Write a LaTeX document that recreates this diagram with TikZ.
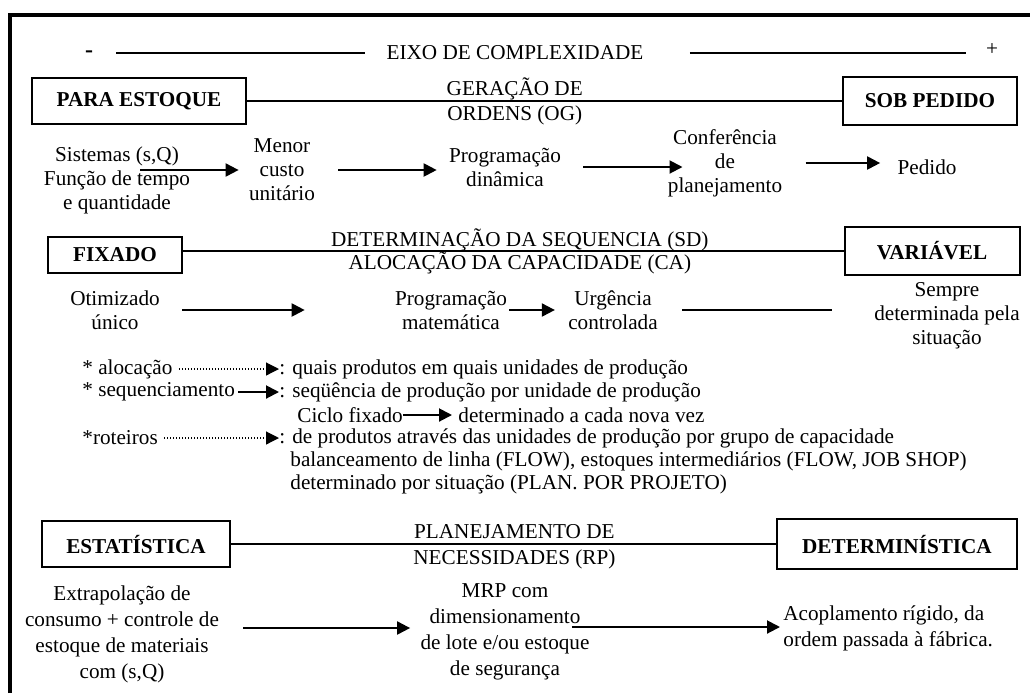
\documentclass[tikz,border=0pt]{standalone}
\usepackage{fontspec}
\setmainfont{Liberation Serif}
\usetikzlibrary{arrows.meta,calc}

\newcommand*\pxunit{0.5pt}
\newcommand*\fonte{\fontsize{10.6pt}{12pt}\selectfont}
\newcommand*\fontelarga{\fontsize{10.6pt}{13pt}\selectfont}
\tikzset{
    polo/.style 2 args={
        draw,
        line width=1pt,
        font=\fonte\bfseries,
        inner sep=0pt,
        minimum width=#1*\pxunit,
        minimum height=#2*\pxunit
    },
    bloco/.style={align=center, inner sep=0pt},
    texto/.style={anchor=west, inner sep=0pt},
    rotulo/.style={anchor=base, inner sep=0pt},
    linha/.style={line width=1pt},
    seta/.style={line width=1pt, -{Triangle[length=6.5pt,width=6.5pt]}},
    pontilhada/.style={line width=0.6pt, dash pattern=on 0.6pt off 0.9pt,
        -{Triangle[length=6.5pt,width=6.5pt]}},
    moldura/.style={line width=2.25pt}
}

\begin{document}
\begin{tikzpicture}[x=\pxunit, y=-\pxunit, font=\fonte]
    \useasboundingbox (0,0) rectangle (1030,693);

    % The frame shows only its top and left sides.
    \draw[moldura] (10,693) -- (10,15) -- (1030,15);

    % Complexity axis.
    \node[anchor=base, inner sep=0pt] (menos) at (89,57) {\large\bfseries -};
    \node[inner sep=0pt] (eixo) at (515,52.5) {EIXO DE COMPLEXIDADE};
    \node[inner sep=0pt] (mais) at (992,50) {+};
    \draw[linha] ($(menos.east |- eixo.west)+(23,0.5)$) -- ($(eixo.west)+(-21,0.5)$);
    \draw[linha] ($(eixo.east)+(46,0.5)$) -- ($(eixo.east -| mais.west)+(-20,0.5)$);

    % Order generation (OG).
    \node[polo={214}{46}] (paraestoque) at (139,101) {PARA ESTOQUE};
    \node[polo={174}{48}] (sobpedido) at (930,101) {SOB PEDIDO};
    \draw[linha] (paraestoque.east) -- (paraestoque.east -| sobpedido.west)
        node[rotulo, pos=.45, yshift=3pt] {GERAÇÃO DE}
        node[rotulo, pos=.45, yshift=-9.75pt] {ORDENS (OG)};

    \node[bloco] (sistemas) at (117,180) {Sistemas (s,Q)\\Função de tempo\\e quantidade};
    \node[bloco] (menor) at (282,170) {Menor\\custo\\unitário};
    \node[bloco] (progdin) at (505,167) {Programação\\dinâmica};
    \node[bloco] (conf) at (725,163) {Conferência\\de\\planejamento};
    \node[bloco] (pedido) at (927,167) {Pedido};
    \coordinate (inicio) at (140,170);
    \draw[seta] (inicio) -- ($(inicio -| menor.west)+(-10,0)$);
    \draw[seta] ($(menor.east)+(23,0)$) -- ($(menor.east -| progdin.west)+(-12,0)$);
    \draw[seta] ($(progdin.east)+(22,0)$) -- ($(progdin.east -| conf.west)+(15,0)$);
    \draw[seta] ($(conf.east)+(23,0)$) -- ($(conf.east -| pedido.west)+(-17,0)$);

    % Sequence determination (SD) and capacity allocation (CA).
    \node[polo={134}{36}] (fixado) at (115,255) {FIXADO};
    \node[polo={175}{48}] (variavel) at (932,251) {VARIÁVEL};
    \draw[linha] (fixado.east |- variavel.west) -- (variavel.west)
        node[rotulo, pos=.51, yshift=2.25pt] {DETERMINAÇÃO DA SEQUENCIA (SD)}
        node[rotulo, pos=.51, yshift=-9pt] {ALOCAÇÃO DA CAPACIDADE (CA)};

    \node[bloco] (otimizado) at (115,310) {Otimizado\\único};
    \node[bloco] (progmat) at (451,310) {Programação\\matemática};
    \node[bloco] (urgencia) at (613,310) {Urgência\\controlada};
    \node[bloco] (sempre) at (947,316) {Sempre\\determinada pela\\situação};
    \draw[seta] ($(otimizado.east)+(22,0)$) -- ($(otimizado.east -| progmat.west)+(-90,0)$);
    \draw[seta] ($(progmat.east)+(2,0)$) -- ($(progmat.east -| urgencia.west)+(-13,0)$);
    \draw[linha] ($(urgencia.east)+(24,0)$) -- ($(urgencia.east -| sempre.west)+(-42,0)$);

    % Notes on allocation, sequencing and routing.
    \node[texto] (alocacao) at (82,369) {* alocação};
    \node[texto] (quais) at (279,369) {: quais produtos em quais unidades de produção};
    \node[texto] (sequenc) at (82,392) {* sequenciamento};
    \node[texto] (seqtexto) at (279,392) {: seqüência de produção por unidade de produção};
    \node[texto] (ciclo) at (297,415) {Ciclo fixado};
    \node[texto] (cadavez) at (458,415) {determinado a cada nova vez};
    \node[texto] (roteiros) at (82,438) {*roteiros};
    \node[texto] (rottexto) at (279,438) {: de produtos através das unidades de produção por grupo de capacidade};
    \node[texto] (balanc) at (290,461) {balanceamento de linha (FLOW), estoques intermediários (FLOW, JOB SHOP)};
    \node[texto] (situacao) at (290,484) {determinado por situação (PLAN. POR PROJETO)};
    \draw[pontilhada] ($(alocacao.east)+(6,0)$) -- (quais.west);
    \draw[seta] ($(sequenc.east)+(3,0)$) -- (seqtexto.west);
    \draw[seta] (ciclo.east) -- ($(ciclo.east -| cadavez.west)+(-6,0)$);
    \draw[pontilhada] ($(roteiros.east)+(6,0)$) -- (rottexto.west);

    % Requirements planning (RP).
    \node[polo={188}{46}] (estatistica) at (136,544) {ESTATÍSTICA};
    \node[polo={240}{50}] (deterministica) at (897,544) {DETERMINÍSTICA};
    \draw[linha] (estatistica.east) -- (estatistica.east -| deterministica.west)
        node[rotulo, pos=.52, yshift=2.75pt] {PLANEJAMENTO DE}
        node[rotulo, pos=.52, yshift=-10.25pt] {NECESSIDADES (RP)};

    \node[bloco, font=\fontelarga] (extrap) at (122,634)
        {Extrapolação de\\consumo + controle de\\estoque de materiais\\com (s,Q)};
    \node[bloco, font=\fontelarga] (mrp) at (505,632)
        {MRP com\\dimensionamento\\de lote e/ou estoque\\de segurança};
    \node[texto, align=left, font=\fontelarga] (acopl) at (783,628)
        {Acoplamento rígido, da\\ordem passada à fábrica.};
    \draw[seta] ($(extrap.east)+(24,-6)$) -- ($(extrap.east -| mrp.west)+(-10,-6)$);
    \draw[seta] ($(mrp.east)+(-18,-5)$) -- ($(mrp.east -| acopl.west)+(-3,-5)$);
\end{tikzpicture}
\end{document}
